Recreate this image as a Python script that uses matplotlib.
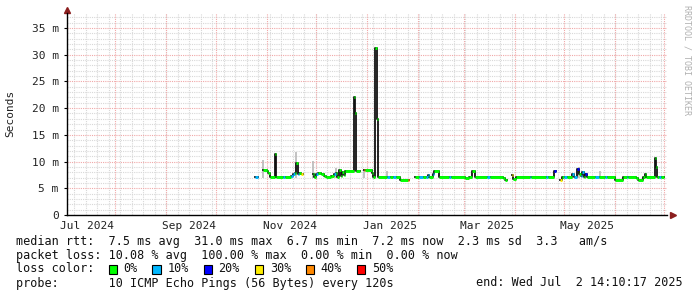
import numpy as np
import pandas as pd
import matplotlib
matplotlib.use("Agg")
import matplotlib.pyplot as plt
import matplotlib.dates as mdates
from matplotlib.patches import Rectangle

nan = np.nan

# median rtt (ms) as steps: each value holds until the next date, nan = no data
dates = [
    "2024-10-25", "2024-10-26 12:00", "2024-10-27", "2024-10-30", "2024-11-01",
    "2024-11-02", "2024-11-03", "2024-11-06", "2024-11-07", "2024-11-11",
    "2024-11-12", "2024-11-16", "2024-11-17", "2024-11-18", "2024-11-19",
    "2024-11-20", "2024-11-21", "2024-11-22", "2024-11-23", "2024-11-29",
    "2024-11-30", "2024-12-01", "2024-12-02", "2024-12-04", "2024-12-06",
    "2024-12-07", "2024-12-10", "2024-12-12", "2024-12-13", "2024-12-14",
    "2024-12-15", "2024-12-16", "2024-12-17", "2024-12-18", "2024-12-19",
    "2024-12-24", "2024-12-25", "2024-12-25 12:00", "2024-12-28", "2024-12-30",
    "2024-12-31", "2025-01-04", "2025-01-05", "2025-01-06", "2025-01-07",
    "2025-01-07 12:00", "2025-01-13", "2025-01-15", "2025-01-17", "2025-01-19",
    "2025-01-21", "2025-01-26", "2025-01-26 18:00", "2025-01-30", "2025-02-02",
    "2025-02-04", "2025-02-06", "2025-02-07", "2025-02-08", "2025-02-10",
    "2025-02-11", "2025-02-14", "2025-02-20", "2025-02-21", "2025-03-02",
    "2025-03-04", "2025-03-06", "2025-03-08", "2025-03-15", "2025-03-17",
    "2025-03-25", "2025-03-26", "2025-03-27 12:00", "2025-03-30", "2025-03-31",
    "2025-04-02", "2025-04-10", "2025-04-11", "2025-04-20", "2025-04-21",
    "2025-04-25", "2025-04-26", "2025-04-28 12:00", "2025-04-29 12:00", "2025-05-01",
    "2025-05-03", "2025-05-06", "2025-05-07", "2025-05-09", "2025-05-10",
    "2025-05-11", "2025-05-12", "2025-05-13", "2025-05-14", "2025-05-15",
    "2025-05-20", "2025-05-22", "2025-05-26", "2025-05-27", "2025-06-01",
    "2025-06-06", "2025-06-08", "2025-06-09", "2025-06-14", "2025-06-15",
    "2025-06-18", "2025-06-19", "2025-06-20", "2025-06-25", "2025-06-26",
    "2025-06-26 12:00", "2025-06-28", "2025-06-29", "2025-06-30 12:00",
]
median_ms = [
    7.2, 7.2, nan, 8.4, 8.3,
    7.9, 7.2, 11.4, 7.2, 7.2,
    7.2, 7.3, 7.6, 7.8, 9.7,
    7.6, 7.9, 7.7, nan, 7.6,
    7.1, 7.6, 7.9, 7.7, 7.3,
    7.1, 7.3, 7.6, 7.9, 7.2,
    8.4, 7.3, 8.0, 7.4, 8.3,
    22.1, 19.1, 8.3, nan, 8.4,
    8.4, 7.9, 7.2, 31.2, 17.9,
    7.2, 7.2, 7.2, 7.2, 7.2,
    6.6, 6.6, nan, 7.2, 7.2,
    7.2, 7.2, 7.5, 7.2, 7.6,
    8.2, 7.2, 7.2, 7.2, 7.0,
    7.2, 8.3, 7.2, 7.2, 7.2,
    6.9, 6.6, nan, 7.4, 6.8,
    7.2, 7.2, 7.2, 7.2, 7.2,
    8.2, nan, 6.6, 7.2, 7.2,
    7.2, 7.6, 7.2, 8.6, 7.6,
    7.3, 8.0, 7.2, 7.6, 7.2,
    7.2, 7.2, 7.2, 7.2, 6.6,
    7.2, 7.2, 7.2, 6.9, 6.6,
    7.2, 7.7, 7.2, 10.7, 9.0,
    7.2, 7.2, 7.2, nan,
]
loss_pct = [
    10, 30, 0, 0, 0,
    0, 0, 0, 0, 10,
    0, 10, 10, 0, 0,
    10, 0, 30, 0, 0,
    0, 10, 0, 0, 0,
    0, 0, 10, 0, 0,
    0, 0, 0, 0, 0,
    0, 0, 0, 0, 40,
    0, 0, 0, 0, 0,
    0, 10, 0, 10, 0,
    0, 40, 0, 0, 10,
    0, 10, 10, 0, 10,
    0, 0, 10, 0, 0,
    0, 0, 0, 10, 0,
    0, 0, 0, 30, 0,
    0, 10, 0, 10, 0,
    20, 0, 30, 0, 10,
    0, 10, 10, 20, 0,
    10, 10, 0, 20, 0,
    10, 0, 10, 0, 0,
    0, 10, 0, 0, 0,
    0, 0, 0, 0, 0,
    0, 10, 0, 0,
]

# light grey smoke above a few samples
smoke_dates = ["2024-10-30", "2024-11-19", "2024-11-29", "2024-12-13",
               "2024-12-30", "2025-01-13", "2025-05-10", "2025-05-23"]
smoke_top_ms = [10.3, 11.7, 10.1, 8.8, 8.6, 8.3, 9.0, 8.2]

loss_levels = [0, 10, 20, 30, 40, 50]
loss_colors = ["#00ff00", "#00b8ff", "#0000ff", "#ffee00", "#ff8800", "#ff0000"]
color_of = dict(zip(loss_levels, loss_colors))

start = pd.Timestamp("2024-07-02 14:10:17")
end = pd.Timestamp("2025-07-02 14:10:17")
label_months = ["2024-07-15", "2024-09-15", "2024-11-15",
                "2025-01-15", "2025-03-15", "2025-05-15"]

MONO = "DejaVu Sans Mono"
W, H = 697, 297

fig = plt.figure(figsize=(W / 100, H / 100), dpi=100)
ax = fig.add_axes([67 / W, (H - 215) / H, 600 / W, 202 / H])
ymax = 202 / 5.343
ax.set_xlim(mdates.date2num(start), mdates.date2num(end))
ax.set_ylim(0, ymax)

# grid: minor grey (weekly / 1 ms), major red (monthly / 5 ms)
minor_c = "#d8d8d8"
major_c = "#f0a8a8"
dots = (0, (1, 1))
for d in pd.date_range("2024-07-07", end, freq="7D"):
    ax.axvline(mdates.date2num(d), color=minor_c, lw=0.8, ls=dots, zorder=1)
for v in range(1, 38):
    if v % 5:
        ax.axhline(v, color=minor_c, lw=0.8, ls=dots, zorder=1)
for d in pd.date_range("2024-08-01", end, freq="MS"):
    ax.axvline(mdates.date2num(d), color=major_c, lw=0.8, ls=dots, zorder=2)
for v in range(5, 36, 5):
    ax.axhline(v, color=major_c, lw=0.8, ls=dots, zorder=2)

x = mdates.date2num(pd.to_datetime(dates, format="mixed"))
y = np.array(median_ms, dtype=float)

sx = mdates.date2num(pd.to_datetime(smoke_dates, format="mixed"))
ax.vlines(sx, 7.0, smoke_top_ms, color="#b8b8b8", lw=1.2, zorder=3)

ax.step(x, y, where="post", color="#111111", lw=1.3, zorder=4)
ok = ~np.isnan(y[:-1])
idx = np.where(ok)[0]
ax.hlines(y[idx], x[idx], x[idx + 1],
          colors=[color_of[loss_pct[i]] for i in idx], lw=2.1, zorder=5)

# axes
for s in ["top", "right"]:
    ax.spines[s].set_visible(False)
ax.spines["left"].set_color("black")
ax.spines["bottom"].set_color("black")
ax.spines["left"].set_linewidth(1)
ax.spines["bottom"].set_linewidth(1)
ax.plot([0], [1 + 3 / 202], marker="^", ms=4.5, color="#8b1e1e",
        transform=ax.transAxes, clip_on=False)
ax.plot([1 + 6 / 600], [0], marker=">", ms=4.5, color="#8b1e1e",
        transform=ax.transAxes, clip_on=False)

ax.set_yticks(range(0, 36, 5))
ax.set_yticklabels(["0"] + [f"{v} m" for v in range(5, 36, 5)])
ax.set_xticks(mdates.date2num(pd.to_datetime(label_months)))
ax.set_xticklabels([pd.Timestamp(m).strftime("%b %Y") for m in label_months])
ax.tick_params(axis="y", length=2, pad=4, labelsize=8, labelcolor="#222222")
ax.tick_params(axis="x", length=0, pad=4, labelsize=8, labelcolor="#222222")
for t in ax.get_xticklabels() + ax.get_yticklabels():
    t.set_family(MONO)

fig.text(10 / W, 1 - 113 / H, "Seconds", rotation=90, ha="center", va="center",
         family=MONO, fontsize=8, color="#222222")
fig.text(687 / W, 1 - 5 / H, "RRDTOOL / TOBI OETIKER", rotation=270,
         ha="center", va="top", family=MONO, fontsize=6, color="#b0b0b0")

# legend block
fs = 8.5
rows = [241, 255, 269, 283]
fig.text(16 / W, 1 - rows[0] / H,
         "median rtt:  7.5 ms avg  31.0 ms max  6.7 ms min  7.2 ms now  2.3 ms sd  3.3   am/s",
         family=MONO, fontsize=fs, va="center", color="#111111")
fig.text(16 / W, 1 - rows[1] / H,
         "packet loss: 10.08 % avg  100.00 % max  0.00 % min  0.00 % now",
         family=MONO, fontsize=fs, va="center", color="#111111")
fig.text(16 / W, 1 - rows[2] / H, "loss color:",
         family=MONO, fontsize=fs, va="center", color="#111111")
bx = 108.5
for lvl, col in zip(loss_levels, loss_colors):
    fig.add_artist(Rectangle((bx / W, 1 - (rows[2] + 4.5) / H), 8.5 / W, 9 / H,
                             transform=fig.transFigure, facecolor=col,
                             edgecolor="black", lw=0.8))
    lab = f"{lvl}%"
    fig.text((bx + 15) / W, 1 - rows[2] / H, lab,
             family=MONO, fontsize=fs, va="center", color="#111111")
    bx += 15.5 + (len(lab) + 2) * 7.12
fig.text(16 / W, 1 - rows[3] / H,
         "probe:       10 ICMP Echo Pings (56 Bytes) every 120s",
         family=MONO, fontsize=fs, va="center", color="#111111")
fig.text(683 / W, 1 - rows[3] / H, "end: Wed Jul  2 14:10:17 2025",
         family=MONO, fontsize=fs, va="center", ha="right", color="#111111")

fig.savefig("out.png", dpi=100)
